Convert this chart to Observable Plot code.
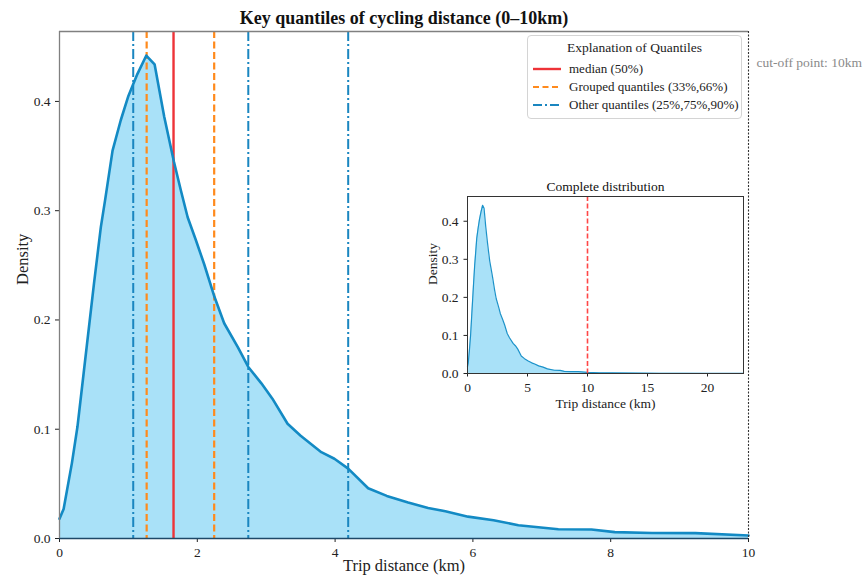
<!DOCTYPE html>
<html>
<head>
<meta charset="utf-8">
<script src="https://cdn.jsdelivr.net/npm/d3@7"></script>
<script src="https://cdn.jsdelivr.net/npm/@observablehq/plot@0.6"></script>
<style>
  body { margin: 0; background: white; }
  #wrap { position: relative; width: 865px; height: 578px; font-family: "Liberation Serif", "DejaVu Serif", serif; }
  #main { position: absolute; left: 0; top: 0; }
  #inset { position: absolute; left: 420px; top: 170px; }
  #legend { position: absolute; left: 527px; top: 35px; width: 213px; height: 82px; border: 1px solid #d4d4d4; border-radius: 4px; background: rgba(255,255,255,0.85); color: #222; font-size: 13px; }
  #legend .title { position: absolute; left: 0; width: 100%; top: 4px; text-align: center; font-size: 13.5px; }
  #legend .item { position: absolute; left: 5px; height: 16px; display: flex; align-items: center; }
  #legend .item span { margin-left: 8px; white-space: nowrap; }
</style>
</head>
<body>
<div id="wrap">
  <div id="main"></div>
  <div id="inset"></div>
  <div id="legend"></div>
</div>
<script>
// ---- data ----
const xKm = [0.0, 0.06, 0.18, 0.26, 0.35, 0.5, 0.6, 0.66, 0.77, 0.89, 1.0, 1.13, 1.26, 1.38, 1.52, 1.66, 1.76, 1.86, 1.98, 2.1, 2.25, 2.39, 2.59, 2.74, 2.93, 3.09, 3.31, 3.5, 3.8, 3.99, 4.19, 4.48, 4.75, 5.06, 5.35, 5.6, 5.93, 6.3, 6.66, 7.24, 7.72, 8.06, 8.6, 9.23, 10.0];
const density = [0.018, 0.027, 0.069, 0.102, 0.151, 0.233, 0.285, 0.309, 0.355, 0.383, 0.405, 0.425, 0.442, 0.434, 0.386, 0.345, 0.319, 0.294, 0.273, 0.251, 0.221, 0.197, 0.175, 0.157, 0.142, 0.128, 0.105, 0.094, 0.079, 0.073, 0.064, 0.046, 0.039, 0.033, 0.028, 0.025, 0.020, 0.0167, 0.0122, 0.0085, 0.0082, 0.0058, 0.0051, 0.0049, 0.0028];
const tailKm = [11, 12, 14, 16, 18, 20, 23];
const tailDensity = [0.002, 0.0015, 0.001, 0.0006, 0.0004, 0.0002, 0.0001];

const quantileLabels = ["25%", "33%", "50%", "66%", "75%", "90%"];
const quantileKm = [1.07, 1.265, 1.655, 2.245, 2.74, 4.19];
const quantileGroup = ["other", "grouped", "median", "grouped", "other", "other"];

const legendTitle = "Explanation of Quantiles";
const legendGroups = ["median", "grouped", "other"];
const legendLabels = ["median (50%)", "Grouped quantiles (33%,66%)", "Other quantiles (25%,75%,90%)"];

const cutoffKm = 10;
const xTicks = [0, 2, 4, 6, 8, 10];
const yTicks = [0.0, 0.1, 0.2, 0.3, 0.4];
const insetXTicks = [0, 5, 10, 15, 20];
const insetYTicks = [0.0, 0.1, 0.2, 0.3, 0.4];

const titleText = "Key quantiles of cycling distance (0\u201310km)";
const xLabel = "Trip distance (km)";
const yLabel = "Density";
const cutoffText = "cut-off point: 10km";
const insetTitle = "Complete distribution";

// ---- styles ----
const styles = {
  median: { stroke: "#ee3338", strokeWidth: 2.4, strokeDasharray: null },
  grouped: { stroke: "#ff8a1c", strokeWidth: 2.2, strokeDasharray: "7,3.5" },
  other: { stroke: "#1a86c0", strokeWidth: 2.0, strokeDasharray: "10,3,2,3" }
};
const serif = "'Liberation Serif', 'DejaVu Serif', serif";

const mainData = xKm.map((x, i) => ({ x, d: density[i] }));
const fullData = mainData.concat(tailKm.map((x, i) => ({ x, d: tailDensity[i] })));
const quantiles = quantileKm.map((x, i) => ({ x, label: quantileLabels[i], group: quantileGroup[i] }));
const yMax = 0.464;

const quantileMarks = legendGroups.map(g => Plot.ruleX(quantiles.filter(q => q.group === g), {
  x: "x", stroke: styles[g].stroke, strokeWidth: styles[g].strokeWidth,
  strokeDasharray: styles[g].strokeDasharray || undefined
}));

const main = Plot.plot({
  width: 865, height: 578,
  marginLeft: 59, marginRight: 117, marginTop: 31, marginBottom: 40,
  style: { fontFamily: serif, fontSize: "13.5px", color: "#222", background: "white", overflow: "visible" },
  x: { domain: [0, 10], ticks: xTicks, tickFormat: d => String(d), tickSize: 4, label: null },
  y: { domain: [0, yMax], ticks: yTicks, tickFormat: d3.format(".1f"), tickSize: 4, label: null },
  marks: [
    Plot.areaY(mainData, { x: "x", y: "d", fill: "#a9e1f8" }),
    ...quantileMarks,
    Plot.lineY(mainData, { x: "x", y: "d", stroke: "#138ac4", strokeWidth: 2.6, strokeLinejoin: "round" }),
    Plot.ruleY([0], { stroke: "#1e4868", strokeWidth: 1.6 }),
    Plot.ruleX([0], { stroke: "#808080", strokeWidth: 1.3 }),
    Plot.ruleY([yMax], { stroke: "#808080", strokeWidth: 1.3 }),
    Plot.ruleX([cutoffKm], { stroke: "#333", strokeWidth: 1.1, strokeDasharray: "2,1.5" }),
    Plot.text([titleText], { text: d => d, frameAnchor: "top", lineAnchor: "middle", dy: -13, fontSize: 18, fontWeight: "bold", fill: "#111" }),
    Plot.text([xLabel], { text: d => d, frameAnchor: "bottom", lineAnchor: "middle", dy: 27, fontSize: 16.5, fill: "#222" }),
    Plot.text([yLabel], { text: d => d, frameAnchor: "left", lineAnchor: "middle", dx: -37, rotate: -90, fontSize: 16.5, fill: "#222" }),
    Plot.text([cutoffText], { text: d => d, frameAnchor: "top-right", lineAnchor: "middle", dx: 8, dy: 31, textAnchor: "start", fontSize: 13.5, fill: "#8a8a8a" })
  ]
});
document.getElementById("main").appendChild(main);

const inset = Plot.plot({
  width: 325, height: 245,
  marginLeft: 47, marginRight: 2, marginTop: 26, marginBottom: 42,
  style: { fontFamily: serif, fontSize: "13.5px", color: "#222", background: "white", overflow: "visible" },
  x: { domain: [0, 23], ticks: insetXTicks, tickFormat: d => String(d), tickSize: 3.5, label: null },
  y: { domain: [0, 0.465], ticks: insetYTicks, tickFormat: d3.format(".1f"), tickSize: 3.5, label: null },
  marks: [
    Plot.areaY(fullData, { x: "x", y: "d", fill: "#a9e1f8" }),
    Plot.lineY(fullData, { x: "x", y: "d", stroke: "#1c92c9", strokeWidth: 1.2 }),
    Plot.ruleX([cutoffKm], { stroke: "#ff4747", strokeWidth: 1.6, strokeDasharray: "5,2.5" }),
    Plot.frame({ stroke: "#333", strokeWidth: 1 }),
    Plot.text([insetTitle], { text: d => d, frameAnchor: "top", lineAnchor: "middle", dy: -10, fontSize: 13.5, fill: "#111" }),
    Plot.text([xLabel], { text: d => d, frameAnchor: "bottom", lineAnchor: "middle", dy: 30, fontSize: 13.5, fill: "#222" }),
    Plot.text([yLabel], { text: d => d, frameAnchor: "left", lineAnchor: "middle", dx: -35, rotate: -90, fontSize: 13.5, fill: "#222" })
  ]
});
document.getElementById("inset").appendChild(inset);

// legend
const legend = document.getElementById("legend");
const t = document.createElement("div");
t.className = "title"; t.textContent = legendTitle; legend.appendChild(t);
legendGroups.forEach((g, i) => {
  const item = document.createElement("div");
  item.className = "item";
  item.style.top = (25 + i * 18) + "px";
  const s = styles[g];
  item.innerHTML = `<svg width="28" height="10"><line x1="0" x2="28" y1="5" y2="5" stroke="${s.stroke}" stroke-width="${s.strokeWidth}" ${s.strokeDasharray ? `stroke-dasharray="${g === 'grouped' ? '6,3.5' : '9,3,2,3'}"` : ""}/></svg><span></span>`;
  item.querySelector("span").textContent = legendLabels[i];
  legend.appendChild(item);
});
</script>
</body>
</html>
